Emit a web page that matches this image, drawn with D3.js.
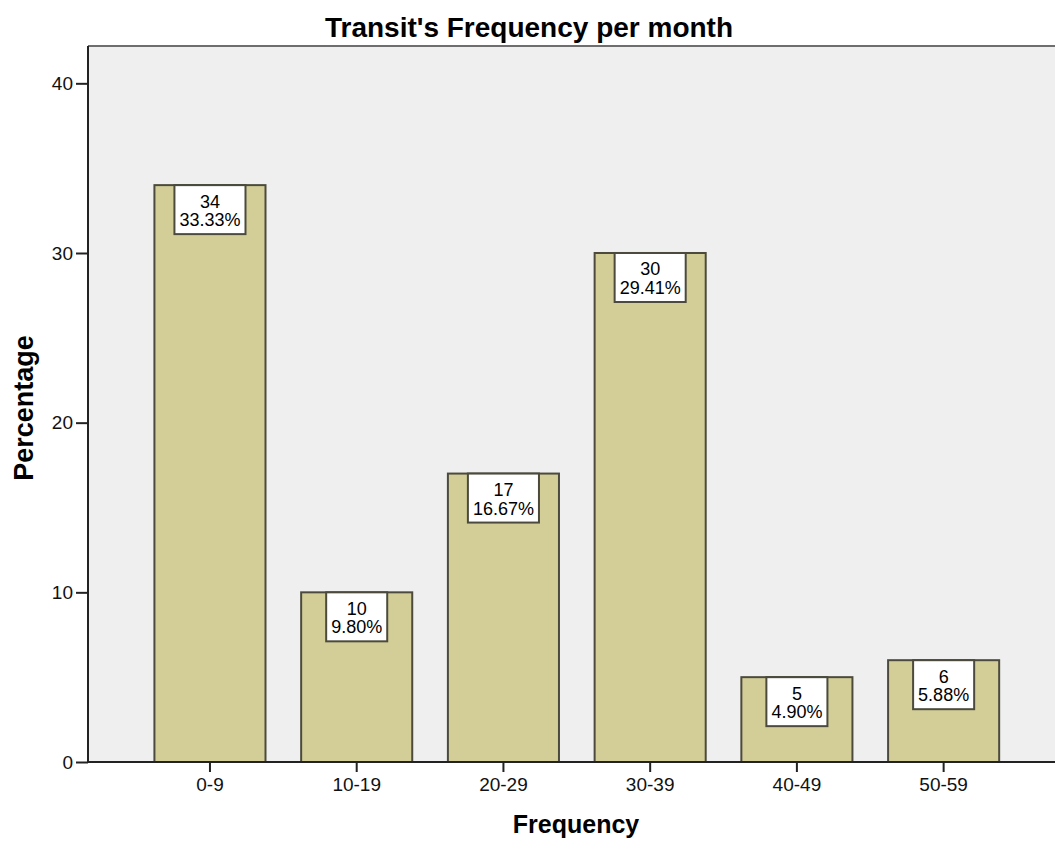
<!DOCTYPE html>
<html>
<head>
<meta charset="utf-8">
<script src="https://cdn.jsdelivr.net/npm/d3@7"></script>
<style>
  html, body { margin: 0; padding: 0; background: #ffffff; }
  svg { display: block; font-family: Arial, "Liberation Sans", sans-serif; }
</style>
</head>
<body>
<svg id="chart" width="1055" height="843"></svg>
<script>
// Monthly transit frequency: number of respondents per frequency band
const categories = ["0-9", "10-19", "20-29", "30-39", "40-49", "50-59"];
const counts = [34, 10, 17, 30, 5, 6];
const yTicks = [0, 10, 20, 30, 40];
const yMax = 42.2;

const titleText = "Transit's Frequency per month";
const xTitle = "Frequency";
const yTitle = "Percentage";

const total = d3.sum(counts);
const percentLabels = counts.map(c => (c / total * 100).toFixed(2) + "%");

const svg = d3.select("#chart");
const plot = { left: 88, right: 1055, top: 46, bottom: 762 };

const x = d3.scaleBand()
  .domain(categories)
  .range([136.6, 1017])
  .paddingInner(0.243)
  .paddingOuter(0.1215);

const y = d3.scaleLinear()
  .domain([0, yMax])
  .range([plot.bottom, plot.top]);

// plot background
svg.append("rect")
  .attr("x", plot.left).attr("y", plot.top)
  .attr("width", plot.right - plot.left)
  .attr("height", plot.bottom - plot.top)
  .attr("fill", "#efefef");

// top frame line
svg.append("line")
  .attr("x1", plot.left).attr("x2", plot.right)
  .attr("y1", plot.top).attr("y2", plot.top)
  .attr("stroke", "#6e6e6e").attr("stroke-width", 2);

// bars
const bars = svg.append("g").selectAll("g.bar")
  .data(categories.map((c, i) => ({ cat: c, count: counts[i], pct: percentLabels[i] })))
  .join("g").attr("class", "bar");

bars.append("rect")
  .attr("x", d => x(d.cat))
  .attr("y", d => y(d.count))
  .attr("width", x.bandwidth())
  .attr("height", d => y(0) - y(d.count))
  .attr("fill", "#d3ce98")
  .attr("stroke", "#4b4a3c")
  .attr("stroke-width", 2);

// value boxes hanging from each bar top
const boxH = 49;
bars.each(function(d) {
  const g = d3.select(this);
  const cx = x(d.cat) + x.bandwidth() / 2;
  const top = y(d.count);
  const box = g.append("rect")
    .attr("y", top)
    .attr("height", boxH)
    .attr("fill", "#ffffff")
    .attr("stroke", "#4b4a3c")
    .attr("stroke-width", 2);
  const t1 = g.append("text")
    .attr("x", cx).attr("y", top + 22.5)
    .attr("text-anchor", "middle")
    .attr("font-size", 18).attr("fill", "#000")
    .text(d.count);
  const t2 = g.append("text")
    .attr("x", cx).attr("y", top + 41)
    .attr("text-anchor", "middle")
    .attr("font-size", 18).attr("fill", "#000")
    .text(d.pct);
  const w = Math.max(t1.node().getComputedTextLength(), t2.node().getComputedTextLength()) + 10;
  box.attr("x", cx - w / 2).attr("width", w);
});

// y axis
const yAxis = svg.append("g")
  .attr("transform", `translate(${plot.left},0)`)
  .call(d3.axisLeft(y).tickValues(yTicks).tickSize(12).tickPadding(3).tickSizeOuter(0));
yAxis.select(".domain").attr("stroke", "#222").attr("stroke-width", 2)
  .attr("d", `M0,${plot.top}V${plot.bottom}`);
yAxis.selectAll(".tick line").attr("stroke", "#222").attr("stroke-width", 2);
yAxis.selectAll(".tick text").attr("font-size", 19).attr("fill", "#111")
  .attr("font-family", "Arial, 'Liberation Sans', sans-serif");

// x axis
const xAxis = svg.append("g")
  .attr("transform", `translate(0,${plot.bottom})`)
  .call(d3.axisBottom(x).tickSize(10).tickPadding(6).tickSizeOuter(0));
xAxis.select(".domain").attr("stroke", "#222").attr("stroke-width", 2)
  .attr("d", `M${plot.left},0H${plot.right}`);
xAxis.selectAll(".tick line").attr("stroke", "#222").attr("stroke-width", 2);
xAxis.selectAll(".tick text").attr("font-size", 19).attr("fill", "#111")
  .attr("font-family", "Arial, 'Liberation Sans', sans-serif");

// titles
svg.append("text")
  .attr("x", 529).attr("y", 37)
  .attr("text-anchor", "middle")
  .attr("font-size", 28).attr("font-weight", "bold").attr("fill", "#000")
  .text(titleText);

svg.append("text")
  .attr("x", 576).attr("y", 833)
  .attr("text-anchor", "middle")
  .attr("font-size", 25).attr("font-weight", "bold").attr("fill", "#000")
  .text(xTitle);

svg.append("text")
  .attr("transform", "translate(33,408) rotate(-90)")
  .attr("text-anchor", "middle")
  .attr("font-size", 27).attr("font-weight", "bold").attr("fill", "#000")
  .text(yTitle);
</script>
</body>
</html>
